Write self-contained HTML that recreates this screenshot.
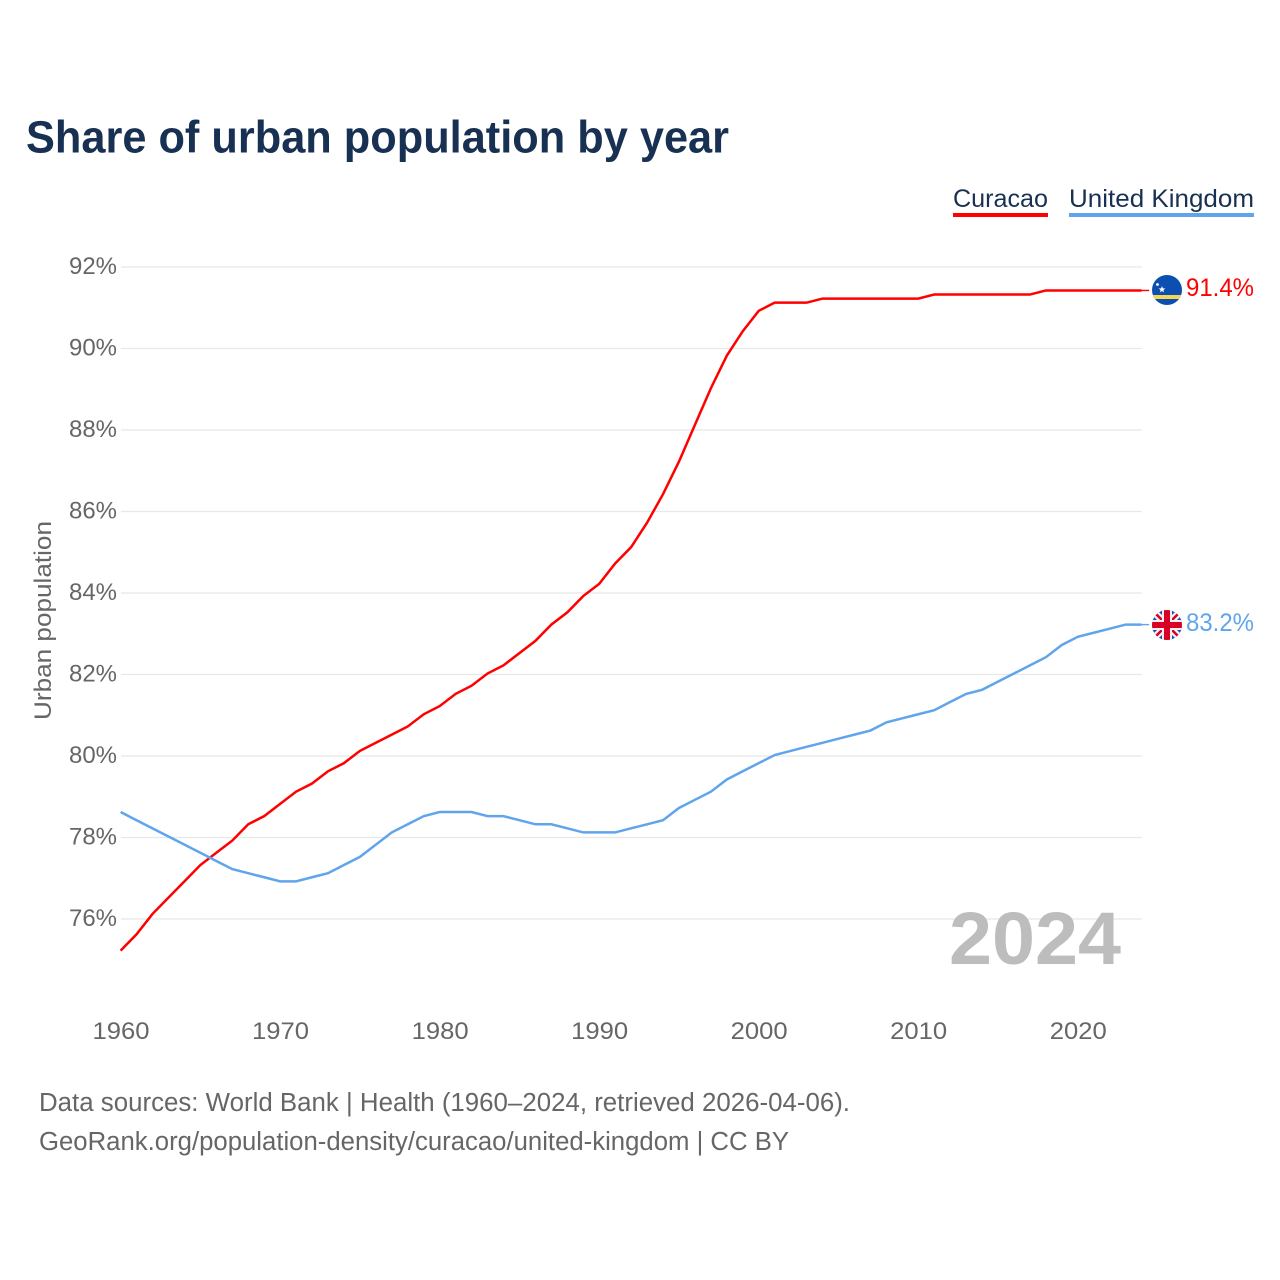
<!DOCTYPE html>
<html lang="en">
<head>
<meta charset="utf-8">
<title>Share of urban population by year</title>
<style>
html,body{margin:0;padding:0;background:#fff;}
svg{display:block;font-family:"Liberation Sans",sans-serif;}
</style>
</head>
<body>
<svg id="chart" width="1280" height="1280" viewBox="0 0 1280 1280" xmlns="http://www.w3.org/2000/svg">
  <text x="26" y="152.5" font-size="45" font-weight="700" fill="#183153" textLength="703" lengthAdjust="spacingAndGlyphs">Share of urban population by year</text>

  <g>
    <text x="953" y="207" font-size="25" fill="#183153" textLength="95" lengthAdjust="spacingAndGlyphs">Curacao</text>
    <rect x="953" y="213" width="95" height="4" fill="#ff0000"/>
  </g>
  <g>
    <text x="1069" y="207" font-size="25" fill="#183153" textLength="185" lengthAdjust="spacingAndGlyphs">United Kingdom</text>
    <rect x="1069" y="213" width="185" height="4" fill="#60a5ec"/>
  </g>

  <g id="grid"></g>
  <g id="yticks"></g>
  <g id="xticks"></g>

  <text transform="translate(51,620.5) rotate(-90)" text-anchor="middle" font-size="24" fill="#666666" textLength="199" lengthAdjust="spacingAndGlyphs">Urban population</text>

  <text x="1121" y="964" text-anchor="end" font-size="74" font-weight="700" fill="#bdbdbd" textLength="172" lengthAdjust="spacingAndGlyphs">2024</text>

  <g id="series" transform="translate(-0.4,-1)"></g>

  <defs>
    <clipPath id="flag-clip-cw"><circle cx="1167" cy="290" r="15"/></clipPath>
    <clipPath id="flag-clip-uk"><circle cx="1167" cy="625" r="15"/></clipPath>
  </defs>

  <g clip-path="url(#flag-clip-cw)">
    <rect x="1152" y="275" width="30" height="30" fill="#0b50b0"/>
    <rect x="1152" y="295" width="30" height="4" fill="#f9d450"/>
    <polygon points="1162,286 1162.9,288.4 1165.4,288.5 1163.4,290 1164.1,292.4 1162,291 1159.9,292.4 1160.6,290 1158.6,288.5 1161.1,288.4" fill="#ffffff"/>
    <circle cx="1157.5" cy="284.5" r="1.4" fill="#ffffff"/>
  </g>

  <g clip-path="url(#flag-clip-uk)">
    <rect x="1152" y="610" width="30" height="30" fill="#1553ad"/>
    <path d="M1152 610L1182 640M1182 610L1152 640" stroke="#f4f0ee" stroke-width="7"/>
    <path d="M1152 610L1182 640M1182 610L1152 640" stroke="#d80027" stroke-width="2.5"/>
    <rect x="1162" y="610" width="10" height="30" fill="#f4f0ee"/>
    <rect x="1152" y="620" width="30" height="10" fill="#f4f0ee"/>
    <rect x="1164" y="610" width="6" height="30" fill="#d80027"/>
    <rect x="1152" y="622" width="30" height="6" fill="#d80027"/>
  </g>

  <text x="1186" y="296" font-size="25" fill="#ff0000" textLength="68" lengthAdjust="spacingAndGlyphs">91.4%</text>
  <text x="1186" y="631" font-size="25" fill="#60a5ec" textLength="68" lengthAdjust="spacingAndGlyphs">83.2%</text>

  <text x="39" y="1111" font-size="25.5" fill="#666666" textLength="811" lengthAdjust="spacingAndGlyphs">Data sources: World Bank | Health (1960–2024, retrieved 2026-04-06).</text>
  <text x="39" y="1150" font-size="25.5" fill="#666666" textLength="750" lengthAdjust="spacingAndGlyphs">GeoRank.org/population-density/curacao/united-kingdom | CC BY</text>
</svg>

<script>
const years = [1960,1961,1962,1963,1964,1965,1966,1967,1968,1969,1970,1971,1972,1973,1974,1975,1976,1977,1978,1979,1980,1981,1982,1983,1984,1985,1986,1987,1988,1989,1990,1991,1992,1993,1994,1995,1996,1997,1998,1999,2000,2001,2002,2003,2004,2005,2006,2007,2008,2009,2010,2011,2012,2013,2014,2015,2016,2017,2018,2019,2020,2021,2022,2023,2024];
const curacao = [75.2,75.6,76.1,76.5,76.9,77.3,77.6,77.9,78.3,78.5,78.8,79.1,79.3,79.6,79.8,80.1,80.3,80.5,80.7,81.0,81.2,81.5,81.7,82.0,82.2,82.5,82.8,83.2,83.5,83.9,84.2,84.7,85.1,85.7,86.4,87.2,88.1,89.0,89.8,90.4,90.9,91.1,91.1,91.1,91.2,91.2,91.2,91.2,91.2,91.2,91.2,91.3,91.3,91.3,91.3,91.3,91.3,91.3,91.4,91.4,91.4,91.4,91.4,91.4,91.4];
const unitedKingdom = [78.6,78.4,78.2,78.0,77.8,77.6,77.4,77.2,77.1,77.0,76.9,76.9,77.0,77.1,77.3,77.5,77.8,78.1,78.3,78.5,78.6,78.6,78.6,78.5,78.5,78.4,78.3,78.3,78.2,78.1,78.1,78.1,78.2,78.3,78.4,78.7,78.9,79.1,79.4,79.6,79.8,80.0,80.1,80.2,80.3,80.4,80.5,80.6,80.8,80.9,81.0,81.1,81.3,81.5,81.6,81.8,82.0,82.2,82.4,82.7,82.9,83.0,83.1,83.2,83.2];
const yTickValues = [76,78,80,82,84,86,88,90,92];
const xTickValues = [1960,1970,1980,1990,2000,2010,2020];

const SVG_NS = 'http://www.w3.org/2000/svg';
function xScale(year){ return 121 + (year - 1960) * (1142 - 121) / 64; }
function yScale(pct){ return 267 + (92 - pct) * (919 - 267) / 16; }

const grid = document.getElementById('grid');
const yticks = document.getElementById('yticks');
const xticks = document.getElementById('xticks');
const seriesLayer = document.getElementById('series');

yTickValues.forEach(function(v){
  const line = document.createElementNS(SVG_NS, 'line');
  
  
  line.setAttribute('x1', xScale(1960));
  line.setAttribute('x2', xScale(2024));
  line.setAttribute('y1', yScale(v));
  line.setAttribute('y2', yScale(v));
  line.setAttribute('stroke', '#e8e8e8');
  line.setAttribute('stroke-width', '1.3');
  grid.appendChild(line);

  const t = document.createElementNS(SVG_NS, 'text');
  
  
  t.setAttribute('x', 69);
  t.setAttribute('y', yScale(v) + 7);
  t.setAttribute('font-size', '24');
  t.setAttribute('fill', '#666666');
  t.setAttribute('textLength', '48');
  t.setAttribute('lengthAdjust', 'spacingAndGlyphs');
  t.textContent = v + '%';
  yticks.appendChild(t);
});

xTickValues.forEach(function(v){
  const t = document.createElementNS(SVG_NS, 'text');
  
  
  t.setAttribute('x', xScale(v) - 28.5);
  t.setAttribute('y', 1039);
  t.setAttribute('font-size', '24');
  t.setAttribute('fill', '#666666');
  t.setAttribute('textLength', '57');
  t.setAttribute('lengthAdjust', 'spacingAndGlyphs');
  t.textContent = v;
  xticks.appendChild(t);
});

function pathFor(values){
  return values.map(function(v, i){
    return (i ? 'L' : 'M') + xScale(years[i]).toFixed(2) + ' ' + yScale(v).toFixed(2);
  }).join(' ');
}

const curacaoLine = document.createElementNS(SVG_NS, 'path');


curacaoLine.setAttribute('d', pathFor(curacao));
curacaoLine.setAttribute('fill', 'none');
curacaoLine.setAttribute('stroke', '#ff0000');
curacaoLine.setAttribute('stroke-width', '2.5');
seriesLayer.appendChild(curacaoLine);

const ukLine = document.createElementNS(SVG_NS, 'path');


ukLine.setAttribute('d', pathFor(unitedKingdom));
ukLine.setAttribute('fill', 'none');
ukLine.setAttribute('stroke', '#60a5ec');
ukLine.setAttribute('stroke-width', '2.5');
seriesLayer.appendChild(ukLine);

const curacaoLeader = document.createElementNS(SVG_NS, 'line');


curacaoLeader.setAttribute('x1', xScale(2024));
curacaoLeader.setAttribute('x2', xScale(2024) + 7.5);
curacaoLeader.setAttribute('y1', yScale(curacao[curacao.length - 1]));
curacaoLeader.setAttribute('y2', yScale(curacao[curacao.length - 1]));
curacaoLeader.setAttribute('stroke', '#ff0000');
curacaoLeader.setAttribute('stroke-width', '1.4');
seriesLayer.appendChild(curacaoLeader);

const ukLeader = document.createElementNS(SVG_NS, 'line');


ukLeader.setAttribute('x1', xScale(2024));
ukLeader.setAttribute('x2', xScale(2024) + 7.5);
ukLeader.setAttribute('y1', yScale(unitedKingdom[unitedKingdom.length - 1]));
ukLeader.setAttribute('y2', yScale(unitedKingdom[unitedKingdom.length - 1]));
ukLeader.setAttribute('stroke', '#60a5ec');
ukLeader.setAttribute('stroke-width', '1.4');
seriesLayer.appendChild(ukLeader);
</script>
</body>
</html>
